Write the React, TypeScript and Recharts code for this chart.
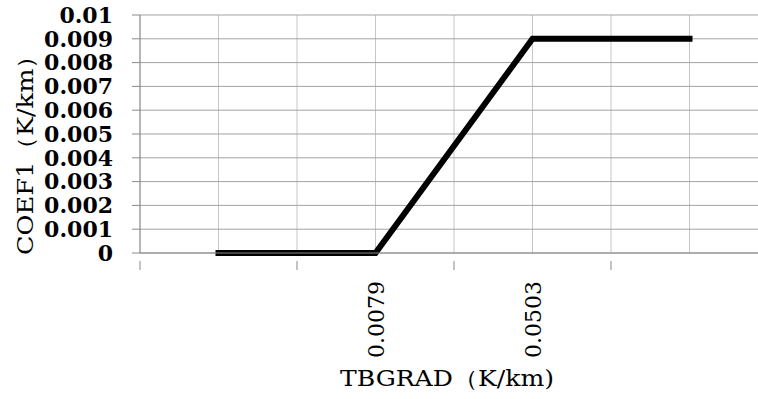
import { LineChart, Line, XAxis, YAxis, CartesianGrid } from 'recharts';

const categories = ['', '0.0079', '0.0503', ''];
const coef1 = [0, 0, 0.009, 0.009];
const yTicks = [0, 0.001, 0.002, 0.003, 0.004, 0.005, 0.006, 0.007, 0.008, 0.009, 0.01];

// each category occupies one unit; points sit at the centre of their slot
const data = categories.map((name, i) => ({ pos: i + 0.5, name, coef1: coef1[i] }));
const xTicks = Array.from({ length: categories.length * 2 + 1 }, (_, i) => i / 2);

const FONT = '"DejaVu Serif", serif';

const XTick = (props: any) => {
  const { x, y, payload } = props;
  const v = payload.value as number;
  if (Number.isInteger(v)) {
    return <line x1={x} y1={y} x2={x} y2={y + 9} stroke="#898989" strokeWidth={1} />;
  }
  const label = categories[Math.floor(v)];
  if (!label) return null;
  return (
    <text
      x={x + 1}
      y={y + 20}
      transform={`rotate(-90, ${x + 1}, ${y + 20})`}
      textAnchor="end"
      dominantBaseline="central"
      fontFamily={FONT}
      fontSize={22}
      fill="#000"
    >
      {label}
    </text>
  );
};

const XTitle = (props: any) => {
  const { viewBox } = props;
  const cx = viewBox.x + viewBox.width / 2;
  return (
    <text
      x={cx - 7}
      y={386}
      textAnchor="middle"
      fontFamily={FONT}
      fontSize={22}
      textLength={214}
      lengthAdjust="spacingAndGlyphs"
      fill="#000"
    >
      TBGRAD（K/km)
    </text>
  );
};

const YTitle = (props: any) => {
  const { viewBox } = props;
  const cy = viewBox.y + viewBox.height / 2 + 15;
  return (
    <text
      x={25}
      y={cy}
      transform={`rotate(-90, 25, ${cy})`}
      textAnchor="middle"
      dominantBaseline="central"
      fontFamily={FONT}
      fontSize={22}
      textLength={212}
      lengthAdjust="spacingAndGlyphs"
      fill="#000"
    >
      COEF1（K/km）
    </text>
  );
};

export default function App() {
  return (
    <div style={{ position: 'absolute', left: 0, top: 0, width: 758, height: 399, overflow: 'hidden', background: '#fff' }}>
      <LineChart width={780} height={399} data={data} margin={{ top: 15, right: 12, bottom: 0, left: 0 }}>
        <CartesianGrid horizontal={false} stroke="#c6c6c6" />
        <CartesianGrid vertical={false} stroke="#a3a3a3" />
        <XAxis
          dataKey="pos"
          type="number"
          domain={[0, categories.length]}
          ticks={xTicks}
          interval={0}
          tickLine={false}
          tick={<XTick />}
          axisLine={{ stroke: '#898989' }}
          height={146}
          label={<XTitle />}
        />
        <YAxis
          type="number"
          domain={[0, 0.01]}
          ticks={yTicks}
          interval={0}
          width={140}
          tickSize={8}
          tickMargin={19}
          tickLine={{ stroke: '#898989' }}
          axisLine={{ stroke: '#898989' }}
          tick={{ fontFamily: FONT, fontSize: 22, fontWeight: 'bold', fill: '#000' }}
          label={<YTitle />}
        />
        <Line
          dataKey="coef1"
          stroke="#000"
          strokeWidth={6}
          strokeLinecap="square"
          dot={false}
          activeDot={false}
          isAnimationActive={false}
        />
      </LineChart>
    </div>
  );
}
